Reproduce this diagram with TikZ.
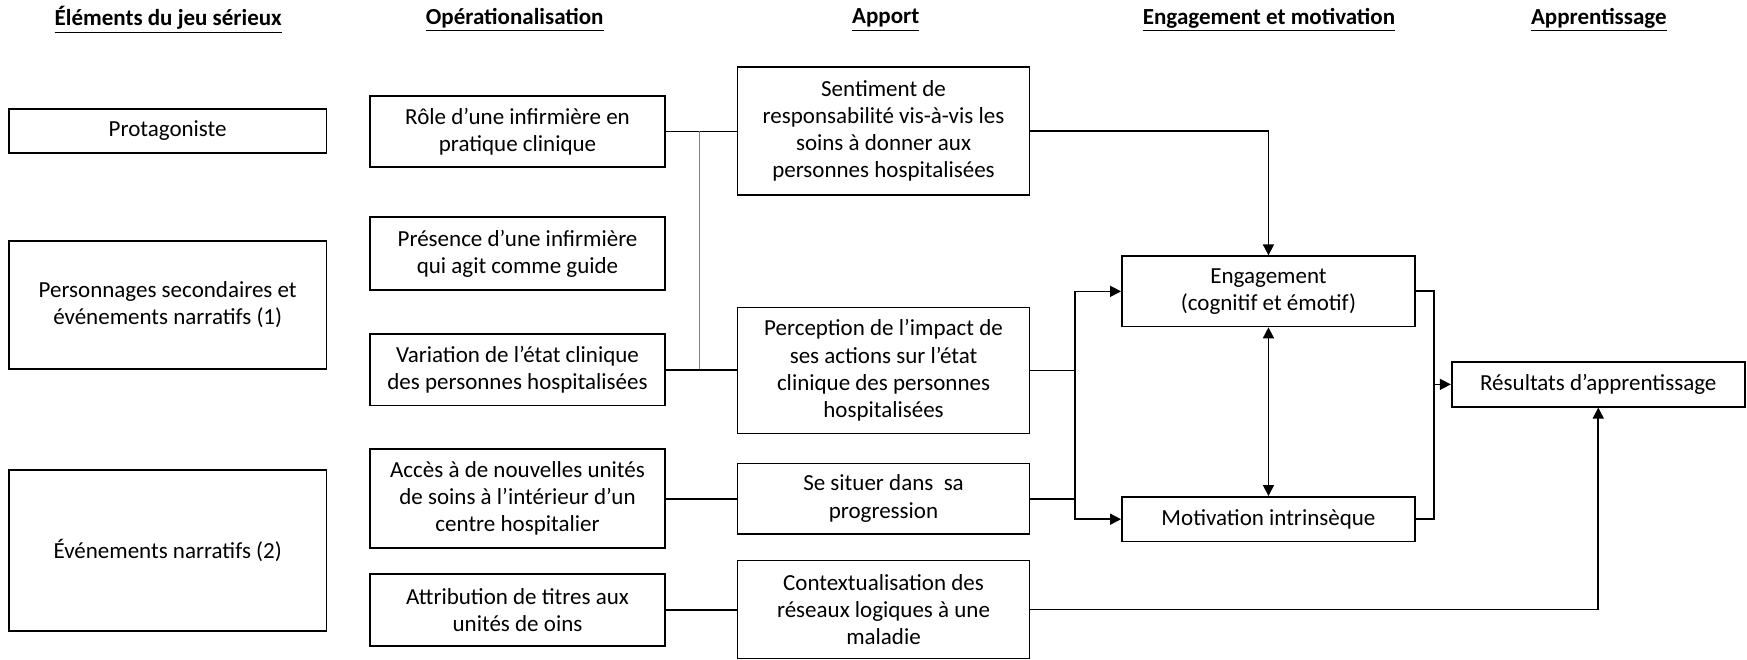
\documentclass[tikz,border=0pt]{standalone}
\usepackage{fontspec}
\setmainfont{Carlito}
\usetikzlibrary{arrows.meta}
\tikzset{
  box/.style 2 args={draw, line width=0.9pt, align=center, inner sep=2pt,
    minimum width=#1*0.5571pt, minimum height=#2*0.5571pt,
    font=\fontsize{11.5}{13.6}\selectfont},
  head/.style={font=\fontsize{11.5}{13.6}\selectfont\bfseries},
  conn/.style={line width=0.95pt},
  guide/.style={line width=0.5pt, draw=gray},
  arr/.style={line width=0.8pt, -{Triangle[length=5.5pt,width=5.5pt]}},
  arrboth/.style={line width=0.8pt, {Triangle[length=5.5pt,width=5.5pt]}-{Triangle[length=5.5pt,width=5.5pt]}}
}
\begin{document}
\begin{tikzpicture}[x=0.5571pt, y=-0.5571pt]
\useasboundingbox (0,0) rectangle (1568,592);
% headers
\node[head] (h1) at (151,18) {\underline{Éléments du jeu sérieux}};
\node[head] (h2) at (462,18) {\underline{Opérationalisation}};
\node[head] (h3) at (795,18) {\underline{Apport}};
\node[head] (h4) at (1139,18) {\underline{Engagement et motivation}};
\node[head] (h5) at (1435,18) {\underline{Apprentissage}};
% column 1
\node[box={285}{39}] (prot) at (150.5,117.5) {Protagoniste};
\node[box={285}{115}] (perso) at (150.5,273.5) {Personnages secondaires et\\événements narratifs (1)};
\node[box={285}{144}] (evt) at (150.5,494) {Événements narratifs (2)};
% column 2
\node[box={265}{64}] (role) at (464.5,118) {Rôle d’une infirmière en\\pratique clinique};
\node[box={265}{65}] (pres) at (464.5,227.5) {Présence d’une infirmière\\qui agit comme guide};
\node[box={265}{64}] (vari) at (464.5,332) {Variation de l’état clinique\\des personnes hospitalisées};
\node[box={265}{89}] (acces) at (464.5,447.5) {Accès à de nouvelles unités\\de soins à l’intérieur d’un\\centre hospitalier};
\node[box={265}{65}] (attr) at (464.5,547.5) {Attribution de titres aux\\unités de oins};
% column 3
\node[box={262}{115}] (sent) at (793,117.5) {Sentiment de\\responsabilité vis-à-vis les\\soins à donner aux\\personnes hospitalisées};
\node[box={262}{113}] (perc) at (793,332.5) {Perception de l’impact de\\ses actions sur l’état\\clinique des personnes\\hospitalisées};
\node[box={262}{63}] (situ) at (793,447.5) {Se situer dans~~sa\\progression};
\node[box={262}{88}] (ctx) at (793,547) {Contextualisation des\\réseaux logiques à une\\maladie};
% column 4
\node[box={263}{63}] (eng) at (1138.5,261.5) {Engagement\\(cognitif et émotif)};
\node[box={263}{40}] (mot) at (1138.5,466) {Motivation intrinsèque};
% column 5
\node[box={263}{40}] (res) at (1434.5,345) {Résultats d’apprentissage};
% junction coordinates
\coordinate (ja) at (628,0);
\coordinate (jb) at (965,0);
\coordinate (jc) at (1287,0);
% connectors
\draw[conn] (role.east) -- (role.east -| sent.west);
\draw[guide] (role.east -| ja) -- (vari.east -| ja);
\draw[conn] (vari.east) -- (vari.east -| perc.west);
\draw[conn] (acces.east) -- (acces.east -| situ.west);
\draw[conn] (attr.east) -- (attr.east -| ctx.west);
\draw[arr] (sent.east) -| (eng.north);
\draw[conn] (perc.east) -- (perc.east -| jb);
\draw[conn] (situ.east) -- (situ.east -| jb);
\draw[arr] (perc.east -| jb) |- (eng.west);
\draw[arr] (perc.east -| jb) |- (mot.west);
\draw[arrboth] (eng.south) -- (mot.north);
\draw[conn] (eng.east) -- (eng.east -| jc) -- (mot.east -| jc) -- (mot.east);
\draw[arr] (res.west -| jc) -- (res.west);
\draw[arr] (ctx.east) -| (res.south);
\end{tikzpicture}
\end{document}
